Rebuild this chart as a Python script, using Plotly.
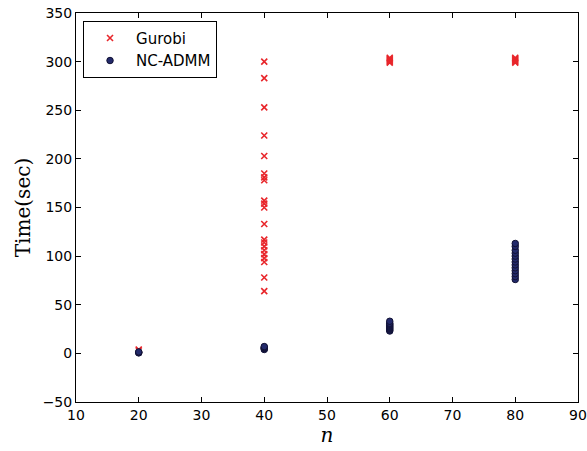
import plotly.graph_objects as go

# Gurobi solve times (sec) per problem size n
gurobi_n = [20, 20,
            40, 40, 40, 40, 40, 40, 40, 40, 40, 40, 40, 40, 40, 40, 40, 40, 40, 40, 40, 40, 40,
            60, 60, 60, 60, 60, 60,
            80, 80, 80, 80, 80, 80]
gurobi_t = [3, 4,
            300, 283, 253, 224, 203, 185, 181, 178, 157, 154, 150, 133, 117, 114, 110, 106, 102, 98, 94, 78, 64,
            299, 300, 301, 302, 303, 304,
            299, 300, 301, 302, 303, 304]

# NC-ADMM solve times (sec)
admm_n = [20, 20, 20,
          40, 40, 40, 40, 40,
          60, 60, 60, 60, 60, 60, 60, 60, 60, 60,
          80, 80, 80, 80, 80, 80, 80, 80, 80, 80, 80, 80, 80]
admm_t = [0.5, 1, 1.5,
          4, 5, 5.5, 6, 7,
          23, 24, 25, 26, 27, 28, 29, 30, 31, 33,
          76, 79, 82, 85, 88, 91, 94, 97, 100, 103, 106, 110, 113]

x_ticks = [10, 20, 30, 40, 50, 60, 70, 80, 90]
y_ticks = [-50, 0, 50, 100, 150, 200, 250, 300, 350]

fig = go.Figure()
fig.add_trace(go.Scatter(
    x=gurobi_n, y=gurobi_t, mode="markers", name="Gurobi",
    marker=dict(symbol="x-thin", size=6, color="#e8262b",
                line=dict(color="#e8262b", width=1.6))))
fig.add_trace(go.Scatter(
    x=admm_n, y=admm_t, mode="markers", name="NC-ADMM",
    marker=dict(symbol="circle", size=6.5, color="#232a6b",
                line=dict(color="#111133", width=1))))

axis_common = dict(showgrid=False, zeroline=False, showline=True, linecolor="black",
                   linewidth=1, mirror="ticks", ticks="inside", ticklen=5,
                   tickcolor="black", automargin=False,
                   tickfont=dict(family="DejaVu Sans", size=14, color="black"))

fig.update_xaxes(range=[10, 90], tickvals=x_ticks, ticktext=[str(v) for v in x_ticks],
                 ticklabeloverflow="allow",
                 title=dict(text="<i>n</i>", font=dict(family="DejaVu Serif", size=20, color="black"),
                            standoff=6),
                 **axis_common)
fig.update_yaxes(range=[-50, 350], tickvals=y_ticks,
                 ticktext=["\u221250" if v < 0 else str(v) for v in y_ticks],
                 title=dict(text="Time(sec)", font=dict(family="DejaVu Serif", size=20, color="black"),
                            standoff=6),
                 **axis_common)

fig.update_layout(
    width=587, height=451,
    margin=dict(l=76, r=9, t=13, b=49, autoexpand=False),
    paper_bgcolor="white", plot_bgcolor="white",
    showlegend=True,
    legend=dict(x=0.014, y=0.98, xanchor="left", yanchor="top",
                bordercolor="black", borderwidth=1, bgcolor="white",
                font=dict(family="DejaVu Sans", size=15, color="black"),
                itemsizing="trace", itemwidth=42),
)

fig.write_html("out.html", config={"displayModeBar": False},
               post_script="document.body.style.margin='0';document.body.style.overflow='hidden';")
